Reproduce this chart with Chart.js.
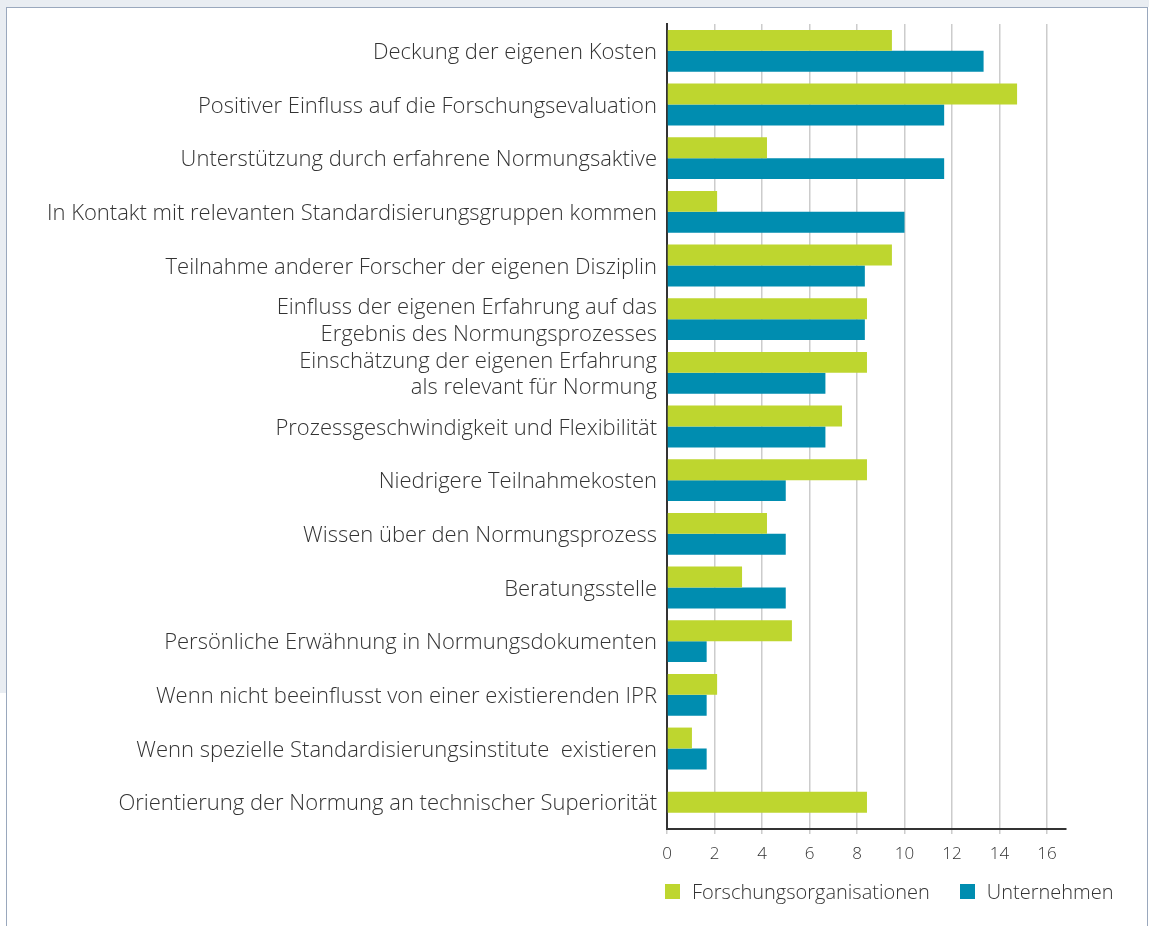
<!DOCTYPE html>
<html>
<head>
<meta charset="utf-8">
<script src="https://cdn.jsdelivr.net/npm/chart.js@4"></script>
<style>
  html,body{margin:0;padding:0;background:#fff;width:1149px;height:926px;overflow:hidden;}
  #bgTop{position:absolute;left:0;top:0;width:1149px;height:7px;background:#e9edf2;}
  #bgLeft{position:absolute;left:0;top:0;width:6px;height:693px;background:#e9edf2;}
  #card{position:absolute;left:6px;top:7px;width:1140px;height:940px;border:1px solid #9aa8bd;border-bottom:none;background:#fff;}
  #wrap{position:absolute;left:8px;top:8px;width:1139px;height:881px;}
  #legend{position:absolute;top:878px;left:665px;font-family:"Open Sans",sans-serif;font-weight:300;font-size:20px;color:#333;display:flex;align-items:center;}
  .item{display:flex;align-items:center;margin-right:30px;}
  .sw{width:15px;height:15px;margin-right:12px;}
</style>
</head>
<body>
<div id="bgTop"></div>
<div id="bgLeft"></div>
<div id="card"></div>
<div id="wrap"><canvas id="c" width="1139" height="881"></canvas></div>
<div id="legend"></div>
<script>
const categories = [
  "Deckung der eigenen Kosten",
  "Positiver Einfluss auf die Forschungsevaluation",
  "Unterstützung durch erfahrene Normungsaktive",
  "In Kontakt mit relevanten Standardisierungsgruppen kommen",
  "Teilnahme anderer Forscher der eigenen Disziplin",
  ["Einfluss der eigenen Erfahrung auf das", "Ergebnis des Normungsprozesses"],
  ["Einschätzung der eigenen Erfahrung", "als relevant für Normung"],
  "Prozessgeschwindigkeit und Flexibilität",
  "Niedrigere Teilnahmekosten",
  "Wissen über den Normungsprozess",
  "Beratungsstelle",
  "Persönliche Erwähnung in Normungsdokumenten",
  "Wenn nicht beeinflusst von einer existierenden IPR",
  "Wenn spezielle Standardisierungsinstitute  existieren",
  "Orientierung der Normung an technischer Superiorität"
];
const seriesNames = ["Forschungsorganisationen", "Unternehmen"];
const forschung = [9.47, 14.74, 4.21, 2.11, 9.47, 8.42, 8.42, 7.37, 8.42, 4.21, 3.16, 5.26, 2.11, 1.05, 8.42];
const unternehmen = [13.33, 11.67, 11.67, 10.0, 8.33, 8.33, 6.67, 6.67, 5.0, 5.0, 5.0, 1.67, 1.67, 1.67, null];
const xTicks = [0, 2, 4, 6, 8, 10, 12, 14, 16];
const colors = ["#bed62f", "#008db0"];

const FONT = "'Open Sans', sans-serif";

new Chart(document.getElementById("c"), {
  type: "bar",
  data: {
    labels: categories,
    datasets: [
      {label: seriesNames[0], data: forschung, backgroundColor: colors[0], skipNull: true,
       categoryPercentage: 0.78, barPercentage: 1.0, maxBarThickness: 21},
      {label: seriesNames[1], data: unternehmen, backgroundColor: colors[1], skipNull: true,
       categoryPercentage: 0.78, barPercentage: 1.0, maxBarThickness: 21}
    ]
  },
  options: {
    indexAxis: "y",
    responsive: false,
    animation: false,
    layout: {padding: {top: 16, right: 81, bottom: 0, left: 0}},
    plugins: {legend: {display: false}, tooltip: {enabled: false}},
    scales: {
      x: {
        min: 0, max: 16.8,
        afterBuildTicks: (s) => { s.ticks = xTicks.map(v => ({value: v})); },
        afterFit: (s) => { s.height = 60; s.paddingLeft = 0; s.paddingRight = 0; },
        grid: {color: "#cccccc", lineWidth: 1.5, tickLength: 5, drawOnChartArea: true},
        border: {color: "#333333", width: 2},
        ticks: {color: "#333", padding: 10, font: {family: FONT, size: 17, weight: 300}}
      },
      y: {
        afterFit: (s) => { s.width = 659; s.paddingTop = 0; s.paddingBottom = 0; },
        grid: {display: false, drawTicks: false},
        border: {color: "#333333", width: 2},
        ticks: {color: "#333", padding: 10, autoSkip: false, labelOffset: 2,
                font: {family: FONT, size: 22, weight: 300, lineHeight: 1.2}}
      }
    }
  }
});

const lg = document.getElementById("legend");
seriesNames.forEach((n, i) => {
  const d = document.createElement("div"); d.className = "item";
  const s = document.createElement("div"); s.className = "sw"; s.style.background = colors[i];
  const t = document.createElement("span"); t.textContent = n;
  d.appendChild(s); d.appendChild(t); lg.appendChild(d);
});
</script>
</body>
</html>
